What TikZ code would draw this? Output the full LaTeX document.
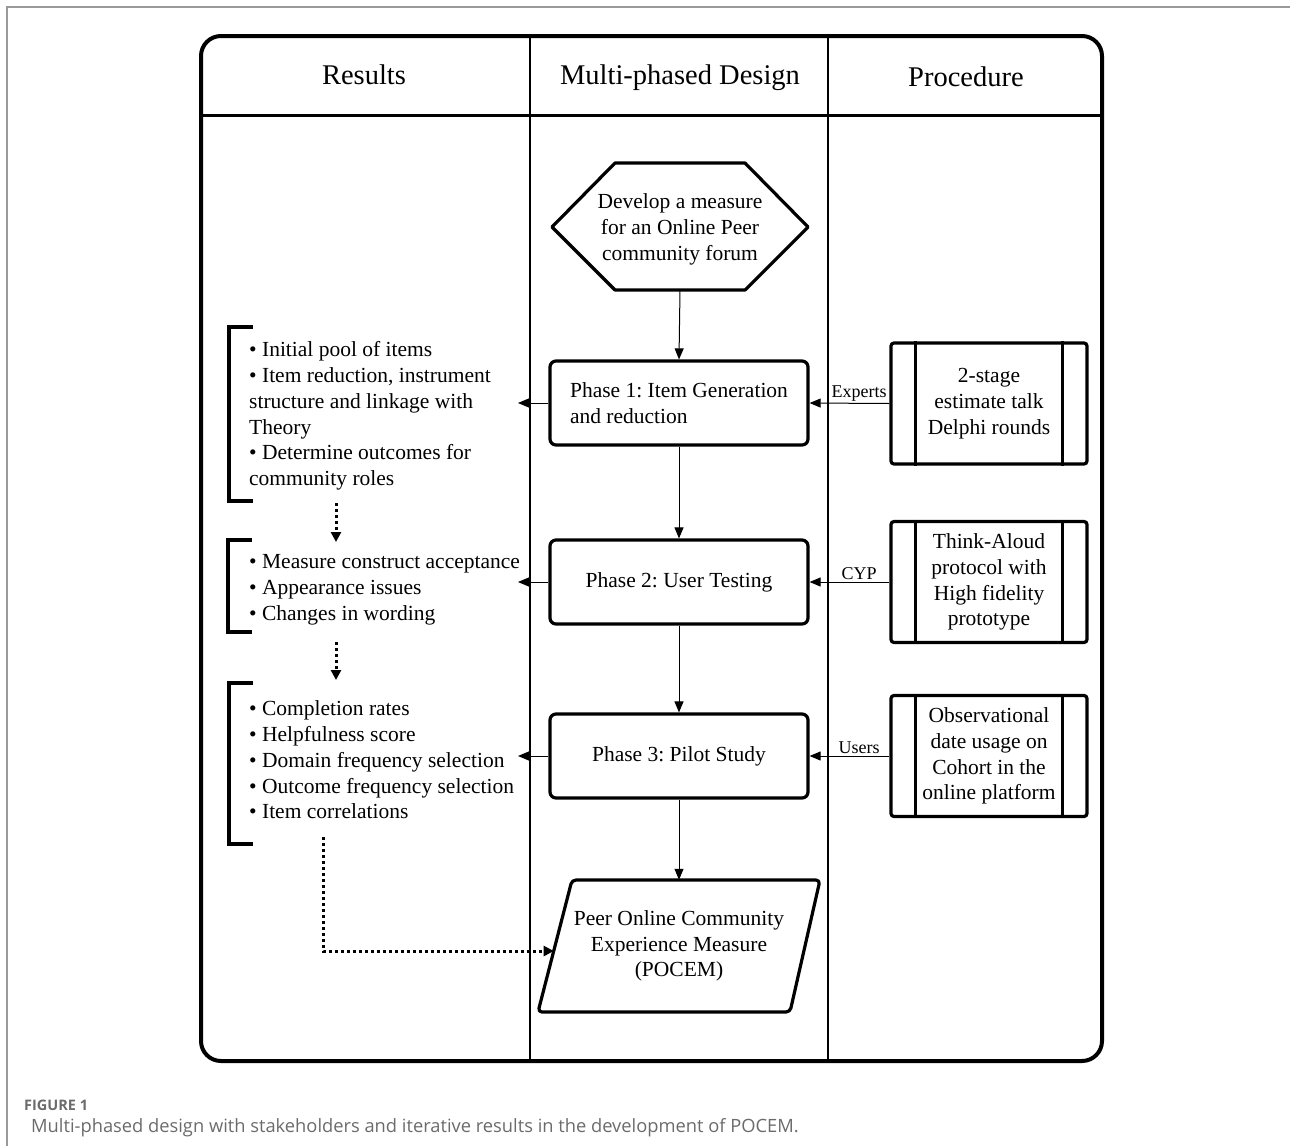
\documentclass[tikz,border=0pt]{standalone}
\usepackage{fontspec}
\setmainfont{Liberation Serif}
\newfontfamily\capfont{Open Sans}
\usetikzlibrary{arrows.meta,calc}
\definecolor{capgray}{HTML}{6B6B6B}
\definecolor{framegray}{HTML}{9A9A9A}
\frenchspacing
\begin{document}
\begin{tikzpicture}[x=1pt,y=-1pt,
  txt/.style={font=\fontsize{21.5}{25.7}\selectfont, inner sep=0pt, align=center},
  head/.style={font=\fontsize{28.5}{31}\selectfont, inner sep=0pt},
  phasebox/.style={draw, line width=3.2pt, rounded corners=6pt, minimum width=258pt, minimum height=84pt, inner sep=0pt, font=\fontsize{21.5}{25.5}\selectfont},
  procbox/.style={draw, line width=3.2pt, rounded corners=3pt, minimum width=196pt, minimum height=121pt, inner sep=0pt, font=\fontsize{21.5}{25.8}\selectfont, align=center},
  restxt/.style={font=\fontsize{21.5}{25.8}\selectfont, inner sep=0pt, align=left, anchor=west},
  flow/.style={line width=1pt, -{Triangle[length=11pt,width=9pt]}},
  dotflow/.style={line width=3pt, dash pattern=on 3pt off 3pt, -{Triangle[length=10pt,width=10pt]}},
  bracketline/.style={line width=3.5pt},
  thick shape/.style={line width=3.2pt, line join=round},
  lbl/.style={font=\fontsize{18}{20}\selectfont, inner sep=1.5pt, anchor=south}
]
\useasboundingbox (0,0) rectangle (1290,1146);

% outer page frame
\draw[framegray, line width=1.2pt] (1290,7) -- (7,7) -- (7,1146);

% swimlane table
\draw[line width=4pt, rounded corners=20pt] (201,36) rectangle (1102,1061);
\draw[line width=3pt] (201,115) -- (1102,115);
\draw[line width=1.6pt] (530,36) -- (530,1061);
\draw[line width=1.6pt] (828,36) -- (828,1061);

\node[head] (hres) at (364,75) {Results};
\node[head] (hdes) at (680,77.5) {Multi-phased Design};
\node[head] (hpro) at (966,77) {Procedure};

% goal hexagon
\node[txt, minimum width=256pt, minimum height=121pt] (goal) at (680,229.5)
  {Develop a measure\\for an Online Peer\\community forum};
\draw[thick shape] (552,227) -- (615,163) -- (745,163) -- (808,227) -- (745,290) -- (615,290) -- cycle;

% phases
\node[phasebox, align=left] (p1) at (679,403) {Phase 1: Item Generation\\and reduction};
\node[phasebox, align=center] (p2) at (679,582) {Phase 2: User Testing};
\node[phasebox, align=center] (p3) at (679,756) {Phase 3: Pilot Study};

% POCEM parallelogram
\node[txt, minimum width=250pt, minimum height=132pt] (pocem) at (679,946)
  {Peer Online Community\\Experience Measure\\(POCEM)};
\draw[thick shape, rounded corners=4pt] (572,880) -- (820,880) -- (790,1012) -- (538,1012) -- cycle;
\coordinate (pin) at ($(572,880)!0.538!(538,1012)$);

% vertical flow
\draw[flow] (goal.south) -- (p1.north);
\draw[flow] (p1.south) -- (p2.north);
\draw[flow] (p2.south) -- (p3.north);
\draw[flow] (p3.south) -- (pocem.north);

% procedure boxes
\node[procbox] (q1) at (989,403.5) {2-stage\\estimate talk\\Delphi rounds};
\node[procbox] (q2) at (989,582) {Think-Aloud\\protocol with\\High fidelity\\prototype};
\node[procbox] (q3) at (989,756) {Observational\\date usage on\\Cohort in the\\online platform};
\foreach \q in {q1,q2,q3}{
  \draw[line width=3.2pt] ($(\q.north west)+(26,0)$) -- ($(\q.south west)+(26,0)$);
  \draw[line width=3.2pt] ($(\q.north east)+(-26,0)$) -- ($(\q.south east)+(-26,0)$);
}

\draw[flow] (q1.west) -- (p1.east) node[lbl, pos=0.38] {Experts};
\draw[flow] (q2.west) -- (p2.east) node[lbl, pos=0.38] {CYP};
\draw[flow] (q3.west) -- (p3.east) node[lbl, pos=0.38] {Users};

% results
\node[restxt] (r1) at (249,416) {\textbullet{} Initial pool of items\\\textbullet{} Item reduction, instrument\\structure and linkage with\\Theory\\\textbullet{} Determine outcomes for\\community roles};
\node[restxt] (r2) at (249,589.5) {\textbullet{} Measure construct acceptance\\\textbullet{} Appearance issues\\\textbullet{} Changes in wording};
\node[restxt] (r3) at (249,760) {\textbullet{} Completion rates\\\textbullet{} Helpfulness score\\\textbullet{} Domain frequency selection\\\textbullet{} Outcome frequency selection\\\textbullet{} Item correlations};

\draw[bracketline] (253,327) -- (229,327) -- (229,501) -- (253,501);
\draw[bracketline] (252,540) -- (228,540) -- (228,632) -- (252,632);
\draw[bracketline] (253,683) -- (229,683) -- (229,844) -- (253,844);

\coordinate (ra1) at (518,403);
\coordinate (ra2) at (518,582);
\coordinate (ra3) at (518,756);
\draw[flow] (p1.west) -- (ra1);
\draw[flow] (p2.west) -- (ra2);
\draw[flow] (p3.west) -- (ra3);

\coordinate (d1s) at (336,503);
\coordinate (d1e) at (336,542);
\coordinate (d2s) at (336,642);
\coordinate (d2e) at (336,680);
\coordinate (d3s) at (323,837);
\draw[dotflow] (d1s) -- (d1e);
\draw[dotflow] (d2s) -- (d2e);
\draw[dotflow] (d3s) |- (pin);

% caption
\node[anchor=west, inner sep=0pt, text=capgray, font=\capfont\bfseries\fontsize{14.5}{16}\selectfont] (fig) at (24,1105) {FIGURE 1};
\node[anchor=west, inner sep=0pt, text=capgray, font=\capfont\fontsize{18.3}{20}\selectfont] (cap) at (31,1128) {Multi-phased design with stakeholders and iterative results in the development of POCEM.};
\end{tikzpicture}
\end{document}
